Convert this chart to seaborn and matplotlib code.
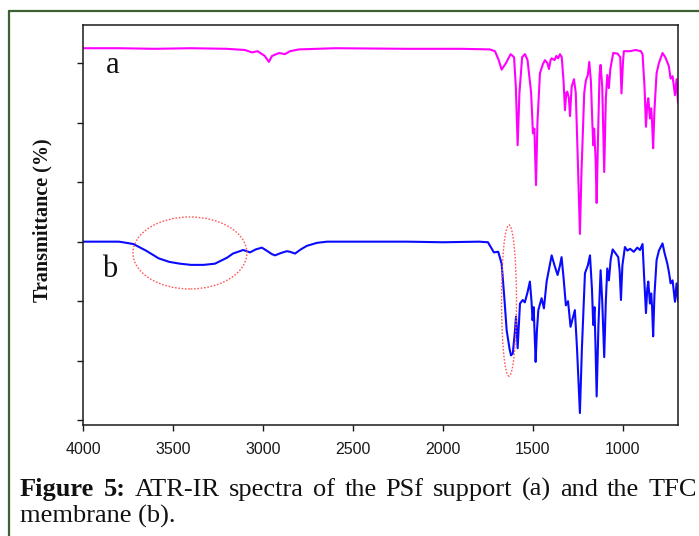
import matplotlib
matplotlib.use("Agg")
import matplotlib.pyplot as plt
import seaborn as sns
import pandas as pd
from matplotlib.patches import Ellipse
from matplotlib.lines import Line2D

# ---------------- data ----------------
wn_a = [4000, 3800, 3600, 3400, 3200, 3100, 3061, 3030, 2990, 2967, 2950, 2910, 2878, 2850, 2800,
        2600, 2200, 1900, 1740, 1711, 1690, 1674, 1650, 1624, 1605, 1595, 1585, 1575, 1560, 1544,
        1530, 1510, 1500, 1492, 1483, 1475, 1461, 1445, 1433, 1420, 1411, 1402, 1396, 1380, 1370,
        1360, 1350, 1340, 1330, 1322, 1315, 1309, 1300, 1294, 1285, 1272, 1262, 1250, 1239, 1230,
        1215, 1206, 1195, 1187, 1178, 1170, 1165, 1160, 1152, 1146, 1138, 1130, 1124, 1115, 1104,
        1095, 1087, 1078, 1070, 1054, 1030, 1015, 1008, 1000, 995, 960, 930, 900, 891, 880,
        872, 865, 859, 850, 843, 838, 832, 825, 813, 800, 780, 765, 754, 745, 735,
        724, 711, 702, 694]
tr_a = [6.25, 6.25, 6.24, 6.25, 6.24, 6.22, 6.18, 6.20, 6.12, 6.02, 6.12, 6.17, 6.15, 6.20, 6.23,
        6.25, 6.24, 6.24, 6.23, 6.20, 6.05, 5.89, 6.00, 6.15, 6.10, 5.60, 4.62, 5.50, 6.10, 6.15,
        6.05, 5.50, 4.82, 4.90, 3.95, 5.00, 5.83, 5.98, 6.05, 6.00, 5.90, 6.05, 6.08, 6.05, 6.12,
        6.08, 6.15, 6.10, 5.70, 5.21, 5.50, 5.52, 5.40, 5.11, 5.60, 5.73, 5.50, 4.30, 3.13, 4.20,
        5.50, 5.71, 5.80, 6.02, 5.70, 5.00, 4.62, 4.90, 4.40, 3.65, 4.80, 5.80, 5.97, 5.60, 4.17,
        5.40, 5.80, 5.58, 5.90, 6.17, 6.16, 6.10, 5.49, 6.00, 6.20, 6.20, 6.22, 6.20, 6.15, 5.60,
        4.93, 5.30, 5.41, 5.07, 5.24, 5.00, 4.57, 5.20, 5.83, 6.00, 6.17, 6.10, 6.02, 5.95, 5.74,
        5.78, 5.46, 5.73, 5.33]

wn_b = [4000, 3800, 3778, 3720, 3650, 3580, 3520, 3461, 3400, 3330, 3267, 3200, 3167, 3110, 3072,
        3040, 3006, 2980, 2950, 2933, 2900, 2867, 2850, 2822, 2790, 2756, 2700, 2644, 2400, 2200,
        2000, 1800, 1750, 1717, 1693, 1674, 1660, 1646, 1630, 1622, 1612, 1600, 1594, 1585, 1572,
        1557, 1545, 1530, 1517, 1508, 1502, 1496, 1490, 1485, 1478, 1470, 1452, 1439, 1424, 1410,
        1396, 1380, 1363, 1350, 1341, 1330, 1317, 1305, 1291, 1280, 1267, 1255, 1239, 1228, 1211,
        1195, 1183, 1172, 1165, 1158, 1152, 1146, 1136, 1124, 1115, 1104, 1095, 1087, 1078, 1068,
        1057, 1040, 1026, 1018, 1011, 1003, 989, 975, 960, 940, 920, 905, 891, 882, 872,
        865, 859, 850, 843, 838, 832, 825, 813, 800, 780, 768, 754, 745, 735, 724,
        711, 702, 694]
tr_b = [3.00, 3.00, 2.99, 2.96, 2.85, 2.72, 2.66, 2.63, 2.61, 2.61, 2.63, 2.73, 2.80, 2.86, 2.82,
        2.87, 2.90, 2.85, 2.79, 2.77, 2.81, 2.84, 2.83, 2.80, 2.87, 2.93, 2.98, 3.00, 3.00, 3.00,
        2.99, 3.00, 2.99, 2.82, 2.83, 2.63, 2.10, 1.51, 1.20, 1.09, 1.12, 1.50, 1.74, 1.21, 1.96,
        2.02, 1.98, 2.15, 2.33, 2.00, 1.68, 1.90, 1.40, 0.98, 1.50, 1.85, 2.05, 1.88, 2.33, 2.55,
        2.77, 2.60, 2.44, 2.60, 2.74, 2.40, 1.93, 2.00, 1.57, 1.70, 1.85, 1.20, 0.12, 1.20, 2.47,
        2.60, 2.77, 2.20, 1.60, 1.90, 1.20, 0.40, 1.60, 2.52, 2.00, 1.06, 2.00, 2.55, 2.35, 2.70,
        2.87, 2.80, 2.74, 2.50, 2.02, 2.60, 2.91, 2.85, 2.88, 2.83, 2.90, 2.86, 2.96, 2.40, 1.80,
        2.20, 2.33, 1.96, 2.13, 1.90, 1.41, 2.10, 2.69, 2.85, 2.97, 2.80, 2.64, 2.50, 2.30, 2.35,
        1.99, 2.30, 2.00]

series_names = ["a", "b"]
x_ticks = [4000, 3500, 3000, 2500, 2000, 1500, 1000]
y_ticks = [0, 1, 2, 3, 4, 5, 6]
y_label = "Transmittance (%)"
caption_bold = ["Figure", "5:"]
caption_words = ["ATR-IR", "spectra", "of", "the", "PSf", "support", "(a)", "and", "the", "TFC"]
caption_line2 = "membrane (b)."

# ---------------- figure ----------------
sns.set_style("ticks")
plt.rcParams['font.family'] = ['Liberation Sans', 'DejaVu Sans']

W, H = 699, 536
fig = plt.figure(figsize=(W / 100, H / 100), dpi=100, facecolor="white")
ax = fig.add_axes([83 / W, 1 - 425 / H, (678 - 83) / W, (425 - 25) / H])

df = pd.concat([
    pd.DataFrame({"wn": wn_a, "T": tr_a, "s": series_names[0]}),
    pd.DataFrame({"wn": wn_b, "T": tr_b, "s": series_names[1]}),
], ignore_index=True)

sns.lineplot(data=df, x="wn", y="T", hue="s", palette={"a": "#ff00ff", "b": "#0a0aff"},
             estimator=None, sort=False, legend=False, lw=1.5, ax=ax)

# dotted ellipses highlighting bands
ax.add_patch(Ellipse((3406, 2.81), 633, 1.21, fill=False, edgecolor="#ff5a5a",
                     linestyle=(0, (1.2, 1.2)), lw=1.0, zorder=5))
ax.add_patch(Ellipse((1633, 2.01), 83, 2.54, fill=False, edgecolor="#ff5a5a",
                     linestyle=(0, (1.2, 1.2)), lw=1.0, zorder=5))

ax.set_xlim(4000, 694)
ax.set_ylim(-0.08, 6.64)
ax.set_xticks(x_ticks)
ax.set_xticklabels([str(t) for t in x_ticks])
ax.set_yticks(y_ticks)
ax.set_xlabel("")
ax.set_ylabel(y_label, fontfamily="Liberation Serif", fontweight="bold", fontsize=14.5,
              color="#111111")
ax.yaxis.set_label_coords((52 - 83) / 595, 0.5125)

for sp in ax.spines.values():
    sp.set_visible(True)
    sp.set_color("#1a1a1a")
    sp.set_linewidth(1.1)
ax.tick_params(axis="x", direction="out", length=4.5, width=1.0, pad=8, labelsize=11.5,
               labelcolor="#1a1a1a", color="#1a1a1a")
ax.tick_params(axis="y", direction="out", length=4.5, width=1.0, labelleft=False,
               color="#1a1a1a")

ax.text(3833, 5.83, series_names[0], fontfamily="Liberation Serif", fontsize=22,
        ha="center", va="baseline", color="#111111")
ax.text(3850, 2.40, series_names[1], fontfamily="Liberation Serif", fontsize=22,
        ha="center", va="baseline", color="#111111")

# green frame
fig.add_artist(Line2D([9 / W, 1.0], [1 - 11 / H, 1 - 11 / H], transform=fig.transFigure,
                      color="#3d6131", lw=1.6))
fig.add_artist(Line2D([9 / W, 9 / W], [0.0, 1 - 11 / H], transform=fig.transFigure,
                      color="#3d6131", lw=1.6))

# justified caption, line 1
renderer = fig.canvas.get_renderer()
cap_fs = 19.0
y1 = 1 - 496 / H
texts = []
for w in caption_bold:
    texts.append(fig.text(0, y1, w, fontfamily="Liberation Serif", fontweight="bold",
                          fontsize=cap_fs, va="baseline", ha="left", color="#111111"))
for w in caption_words:
    texts.append(fig.text(0, y1, w, fontfamily="Liberation Serif", fontsize=cap_fs,
                          va="baseline", ha="left", color="#111111"))
widths = [t.get_window_extent(renderer).width for t in texts]
x0, x1 = 20, 697
gap = (x1 - x0 - sum(widths)) / (len(texts) - 1)
x = x0
for t, wdt in zip(texts, widths):
    t.set_x(x / W)
    x += wdt + gap

fig.text(20 / W, 1 - 523 / H, caption_line2, fontfamily="Liberation Serif", fontsize=cap_fs,
         va="baseline", ha="left", color="#111111")

fig.savefig("out.png", dpi=100, facecolor="white")
